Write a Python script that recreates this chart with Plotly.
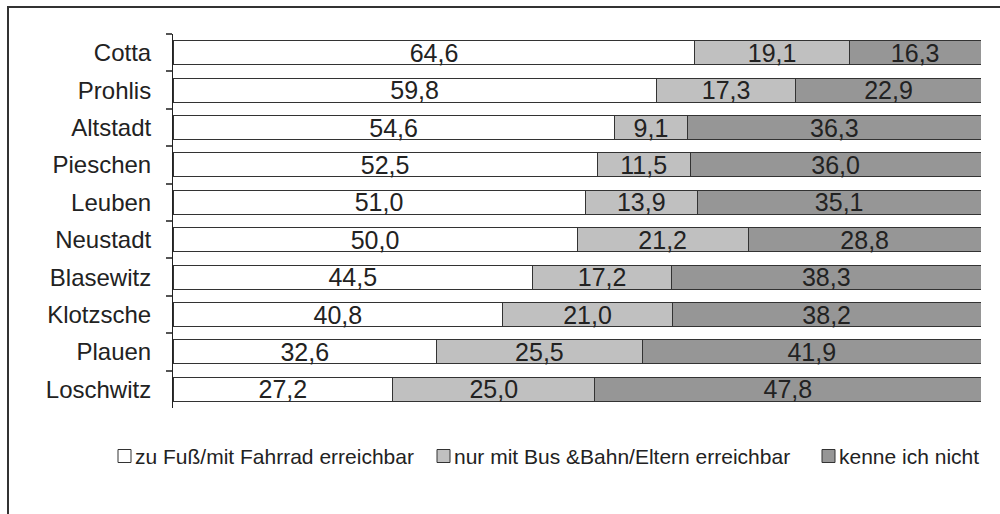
import plotly.graph_objects as go

# Stadtteile (top to bottom)
districts = ["Cotta", "Prohlis", "Altstadt", "Pieschen", "Leuben",
             "Neustadt", "Blasewitz", "Klotzsche", "Plauen", "Loschwitz"]

# Anteile in Prozent
zu_fuss = [64.6, 59.8, 54.6, 52.5, 51.0, 50.0, 44.5, 40.8, 32.6, 27.2]
bus_bahn = [19.1, 17.3, 9.1, 11.5, 13.9, 21.2, 17.2, 21.0, 25.5, 25.0]
kenne_nicht = [16.3, 22.9, 36.3, 36.0, 35.1, 28.8, 38.3, 38.2, 41.9, 47.8]

series_names = ["zu Fuß/mit Fahrrad erreichbar",
                "nur mit Bus &Bahn/Eltern erreichbar",
                "kenne ich nicht"]
series_values = [zu_fuss, bus_bahn, kenne_nicht]
series_colors = ["#ffffff", "#c0c0c0", "#969696"]

FONT = "Liberation Sans, Arial, sans-serif"
TEXT = "#222222"
EDGE = "#333333"

# plot area in pixels (figure 1000 x 514)
L, R, T, B = 173, 19, 34, 106
PW, PH = 1000 - L - R, 514 - T - B


def px_x(px):
    return (px - L) / PW


def px_y(py):
    return (514 - B - py) / PH


fig = go.Figure()
for name, values, color in zip(series_names, series_values, series_colors):
    fig.add_trace(go.Bar(
        y=districts,
        x=values,
        name=name,
        orientation="h",
        marker=dict(color=color, line=dict(color=EDGE, width=1)),
        text=values,
        texttemplate="%{x:.1f}",
        textposition="inside",
        insidetextanchor="middle",
        textangle=0,
        constraintext="none",
        insidetextfont=dict(family=FONT, size=25, color=TEXT),
        hoverinfo="skip",
        showlegend=False,
    ))

# outer frame of the chart: top and left edges
shapes = [
    dict(type="line", xref="paper", yref="paper",
         x0=px_x(7), x1=px_x(1000), y0=px_y(7), y1=px_y(7),
         line=dict(color=EDGE, width=2), layer="below"),
    dict(type="line", xref="paper", yref="paper",
         x0=px_x(8), x1=px_x(8), y0=px_y(6), y1=px_y(514),
         line=dict(color=EDGE, width=2), layer="below"),
]

# legend row: swatch + label for each series
legend_swatch_x = [118, 437, 822]
legend_y = 456
annotations = []
for name, color, sx in zip(series_names, series_colors, legend_swatch_x):
    shapes.append(dict(
        type="rect", xref="paper", yref="paper",
        x0=px_x(sx), x1=px_x(sx + 13),
        y0=px_y(legend_y + 6.5), y1=px_y(legend_y - 6.5),
        line=dict(color=EDGE, width=1), fillcolor=color,
    ))
    annotations.append(dict(
        xref="paper", yref="paper",
        x=px_x(sx + 15), y=px_y(legend_y),
        xanchor="left", yanchor="middle",
        text=name, showarrow=False,
        font=dict(family=FONT, size=21, color=TEXT),
    ))

fig.update_layout(
    width=1000,
    height=514,
    barmode="stack",
    bargap=0.36,
    separators=",.",
    paper_bgcolor="white",
    plot_bgcolor="white",
    margin=dict(l=L, r=R, t=T, b=B),
    font=dict(family=FONT, color=TEXT),
    showlegend=False,
    xaxis=dict(
        range=[0, 100],
        visible=False,
        fixedrange=True,
    ),
    yaxis=dict(
        autorange="reversed",
        showline=True,
        linecolor=TEXT,
        linewidth=1,
        ticks="outside",
        tickson="boundaries",
        ticklen=6,
        tickcolor="#555555",
        tickwidth=2,
        ticklabelstandoff=16,
        tickfont=dict(family=FONT, size=24, color=TEXT),
        showgrid=False,
        fixedrange=True,
    ),
    shapes=shapes,
    annotations=annotations,
)

fig.write_html("out.html")
